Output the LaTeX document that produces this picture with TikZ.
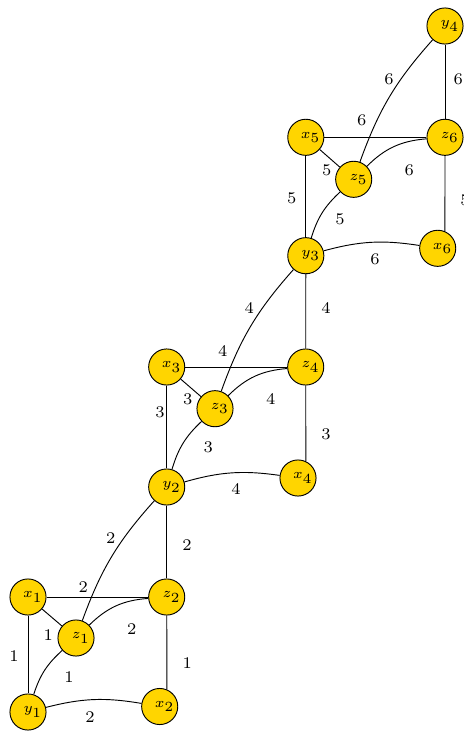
\documentclass[tikz,border=0pt]{standalone}
\definecolor{vgold}{RGB}{255,213,0}
\newcommand{\vlab}[2]{\makebox[0pt]{\hspace{4.2pt}\raisebox{-1.2pt}{$#1_{\textstyle #2}$}}}
\begin{document}
\begin{tikzpicture}[x=0.4292pt,y=-0.4292pt,
  vtx/.style={circle,draw=black,fill=vgold,minimum size=15.5pt,inner sep=0pt,font=\fontsize{6}{7}\selectfont},
  lab/.style={font=\scriptsize,inner sep=0pt},
  conn/.style={black,line width=0.4pt}]
\useasboundingbox (0,0) rectangle (463,732);
% nodes
\node[vtx] (x1) at (28,597) {\vlab{x}{1}};
\node[vtx] (z1) at (76,638) {\vlab{z}{1}};
\node[vtx] (z2) at (166.7,597) {\vlab{z}{2}};
\node[vtx] (y1) at (28,712) {\vlab{y}{1}};
\node[vtx] (x2) at (159.7,706.5) {\vlab{x}{2}};
\node[vtx] (x3) at (166.7,367) {\vlab{x}{3}};
\node[vtx] (z3) at (215,408.7) {\vlab{z}{3}};
\node[vtx] (z4) at (305.7,367) {\vlab{z}{4}};
\node[vtx] (y2) at (166.7,487) {\vlab{y}{2}};
\node[vtx] (x4) at (298,478) {\vlab{x}{4}};
\node[vtx] (x5) at (305.8,137.3) {\vlab{x}{5}};
\node[vtx] (z5) at (353.7,179.3) {\vlab{z}{5}};
\node[vtx] (z6) at (445,137.3) {\vlab{z}{6}};
\node[vtx] (y3) at (305.8,255.7) {\vlab{y}{3}};
\node[vtx] (x6) at (437.7,248.3) {\vlab{x}{6}};
\node[vtx] (y4) at (445,26) {\vlab{y}{4}};
% block 1
\draw[conn] (x1) -- (z2);
\draw[conn] (x1) -- (z1);
\draw[conn] (x1) -- (y1);
\draw[conn] (z1) to[bend left=20] (z2);
\draw[conn] (y1) to[bend left=15] (z1);
\draw[conn] (y1) to[bend left=12] (x2);
\draw[conn] (z2) -- (x2.67);
\draw[conn] (z1) to[bend left=11] (y2);
\draw[conn] (z2) -- (y2);
% block 2
\draw[conn] (x3) -- (z4);
\draw[conn] (x3) -- (z3);
\draw[conn] (x3) -- (y2);
\draw[conn] (z3) to[bend left=20] (z4);
\draw[conn] (y2) to[bend left=15] (z3);
\draw[conn] (y2) to[bend left=12] (x4);
\draw[conn] (z4) -- (x4.65);
\draw[conn] (z3) to[bend left=11] (y3);
\draw[conn] (z4) -- (y3);
% block 3
\draw[conn] (x5) -- (z6);
\draw[conn] (x5) -- (z5);
\draw[conn] (x5) -- (y3);
\draw[conn] (z5) to[bend left=20] (z6);
\draw[conn] (y3) to[bend left=15] (z5);
\draw[conn] (y3) to[bend left=12] (x6);
\draw[conn] (z6) -- (x6.67);
\draw[conn] (z5) to[bend left=11] (y4);
\draw[conn] (z6) -- (y4);
% labels block 1
\node[lab] (l1) at (83.3,587.3) {2};
\node[lab] (l2) at (48.3,635) {1};
\node[lab] (l3) at (14,656) {1};
\node[lab] (l4) at (131.7,629.3) {2};
\node[lab] (l5) at (69,676.7) {1};
\node[lab] (l6) at (90,717.3) {2};
\node[lab] (l7) at (187.3,662.7) {1};
\node[lab] (l8) at (110.7,537.7) {2};
\node[lab] (l9) at (187,545) {2};
% labels block 2
\node[lab] (l10) at (222.7,350.7) {4};
\node[lab] (l11) at (187.7,399.3) {3};
\node[lab] (l12) at (160,412.7) {3};
\node[lab] (l13) at (270.7,399.3) {4};
\node[lab] (l14) at (208.3,447.3) {3};
\node[lab] (l15) at (236,489.3) {4};
\node[lab] (l16) at (326,434) {3};
\node[lab] (l17) at (249.3,308.3) {4};
\node[lab] (l18) at (326,308) {4};
% labels block 3
\node[lab] (l19) at (361.7,120.7) {6};
\node[lab] (l20) at (326.7,170) {5};
\node[lab] (l21) at (291.7,198.3) {5};
\node[lab] (l22) at (409.3,170.7) {6};
\node[lab] (l23) at (340,219.3) {5};
\node[lab] (l24) at (375,259.3) {6};
\node[lab] (l25) at (465,200) {5};
\node[lab] (l26) at (389,79.3) {6};
\node[lab] (l27) at (458.3,79.3) {6};
\end{tikzpicture}
\end{document}
